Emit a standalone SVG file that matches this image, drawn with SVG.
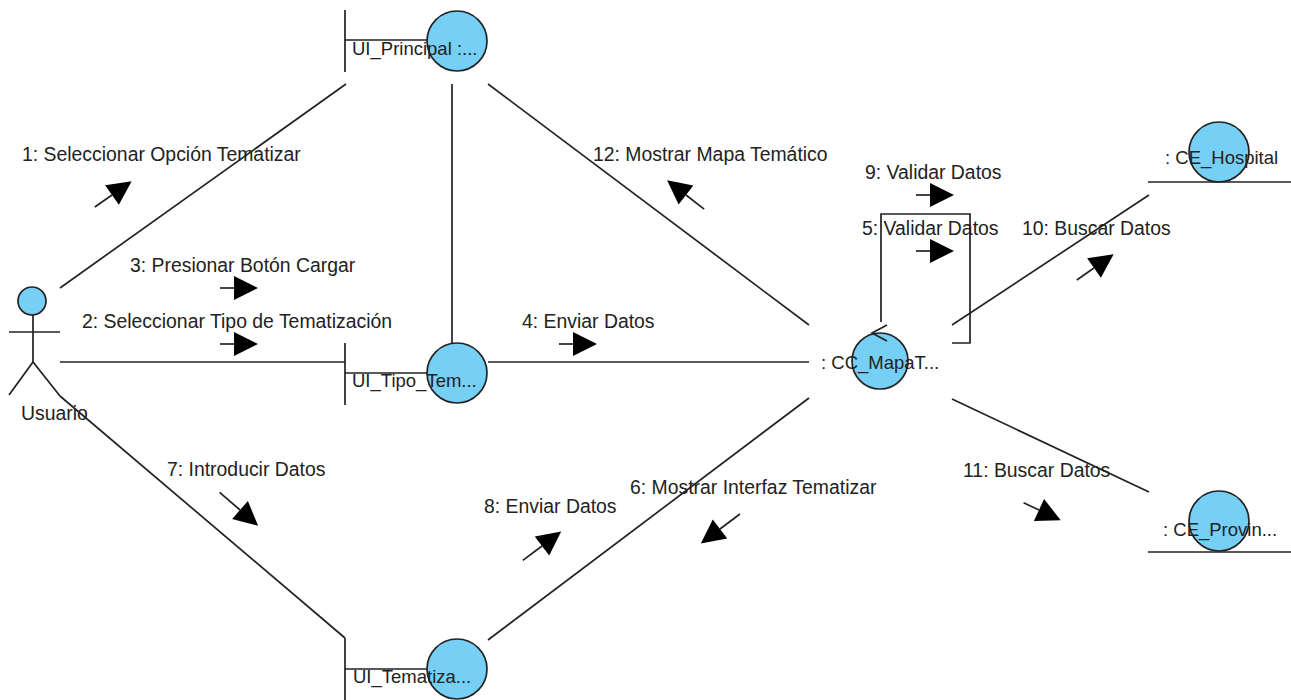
<svg xmlns="http://www.w3.org/2000/svg" width="1291" height="700" viewBox="0 0 1291 700">
<style>
text{font-family:"Liberation Sans",Arial,sans-serif;font-size:19.4px;fill:#222;font-weight:400}
text.n{font-size:18.5px}
line,polyline{stroke:#222;stroke-width:1.7;fill:none}
circle{fill:#76cff5;stroke:#222;stroke-width:1.7}
.a{fill:#000;stroke:none}
</style>
<defs>
<polygon id="h" class="a" points="0,-12 24,0 0,12"/>
</defs>
<rect width="1291" height="700" fill="#fff"/>
<g id="connectors">
<line x1="60" y1="288" x2="346" y2="84"/>
<line x1="60" y1="362" x2="345" y2="362"/>
<line x1="60" y1="396" x2="345" y2="638"/>
<line x1="452" y1="84" x2="452" y2="343"/>
<line x1="488" y1="84" x2="809" y2="325"/>
<line x1="488" y1="362" x2="809" y2="362"/>
<line x1="488" y1="640" x2="809" y2="398"/>
<line x1="952" y1="325" x2="1149" y2="195"/>
<line x1="952" y1="399" x2="1149" y2="492"/>
<polyline points="881,322 881,214 970,214 970,343 952,343"/>
</g>
<g id="msg1"><text x="22" y="161">1: Seleccionar Opción Tematizar</text><g transform="translate(112,195) rotate(-35)"><line x1="-21" x2="0"/><use href="#h"/></g></g>
<g id="msg2"><text x="82" y="328">2: Seleccionar Tipo de Tematización</text><g transform="translate(234,344)"><line x1="-14" x2="0"/><use href="#h"/></g></g>
<g id="msg3"><text x="130" y="272">3: Presionar Botón Cargar</text><g transform="translate(234,288)"><line x1="-14" x2="0"/><use href="#h"/></g></g>
<g id="msg4"><text x="522" y="328">4: Enviar Datos</text><g transform="translate(573,344)"><line x1="-14" x2="0"/><use href="#h"/></g></g>
<g id="msg5"><text x="862" y="235">5: Validar Datos</text><g transform="translate(930,251)"><line x1="-14" x2="0"/><use href="#h"/></g></g>
<g id="msg6"><text x="630" y="494">6: Mostrar Interfaz Tematizar</text><g transform="translate(720,529) rotate(143)"><line x1="-25" x2="0"/><use href="#h"/></g></g>
<g id="msg7"><text x="167" y="476">7: Introducir Datos</text><g transform="translate(240,510) rotate(41)"><line x1="-27" x2="0"/><use href="#h"/></g></g>
<g id="msg8"><text x="484" y="513">8: Enviar Datos</text><g transform="translate(542,546) rotate(-37)"><line x1="-24" x2="0"/><use href="#h"/></g></g>
<g id="msg9"><text x="865" y="179">9: Validar Datos</text><g transform="translate(930,195)"><line x1="-14" x2="0"/><use href="#h"/></g></g>
<g id="msg10"><text x="1022" y="235">10: Buscar Datos</text><g transform="translate(1094,268) rotate(-35)"><line x1="-21" x2="0"/><use href="#h"/></g></g>
<g id="msg11"><text x="963" y="477">11: Buscar Datos</text><g transform="translate(1039,510) rotate(25)"><line x1="-17" x2="0"/><use href="#h"/></g></g>
<g id="msg12"><text x="593" y="161">12: Mostrar Mapa Temático</text><g transform="translate(686,195) rotate(-142)"><line x1="-23" x2="0"/><use href="#h"/></g></g>
<g id="usuario">
<circle cx="32" cy="301" r="14"/>
<line x1="33" y1="315" x2="33" y2="362"/>
<line x1="9" y1="332" x2="60" y2="332"/>
<polyline points="9,395 33,362 60,396"/>
<text x="21" y="420">Usuario</text>
</g>
<g id="ui_principal">
<line x1="345" y1="10" x2="345" y2="72"/><line x1="345" y1="40" x2="428" y2="40"/>
<circle cx="457" cy="41" r="30"/><text class="n" x="352" y="55">UI_Principal :...</text>
</g>
<g id="ui_tipo">
<line x1="345" y1="343" x2="345" y2="405"/><line x1="345" y1="373" x2="428" y2="373"/>
<circle cx="457" cy="373" r="30"/><text class="n" x="352" y="387">UI_Tipo_Tem...</text>
</g>
<g id="ui_tematiza">
<line x1="345" y1="638" x2="345" y2="700"/><line x1="345" y1="669" x2="428" y2="669"/>
<circle cx="457" cy="669" r="30"/><text class="n" x="353" y="683">UI_Tematiza...</text>
</g>
<g id="cc_mapa">
<circle cx="880" cy="361" r="28"/><text class="n" x="821" y="369">: CC_MapaT...</text>
<polyline points="887,325 872,333 887,341"/>
</g>
<g id="ce_hospital">
<circle cx="1219" cy="152" r="30"/><line x1="1148" y1="182" x2="1291" y2="182"/><text class="n" x="1165" y="164">: CE_Hospital</text>
</g>
<g id="ce_provincia">
<circle cx="1219" cy="521" r="30"/><line x1="1148" y1="552" x2="1291" y2="552"/><text class="n" x="1163" y="536">: CE_Provin...</text>
</g>
</svg>
